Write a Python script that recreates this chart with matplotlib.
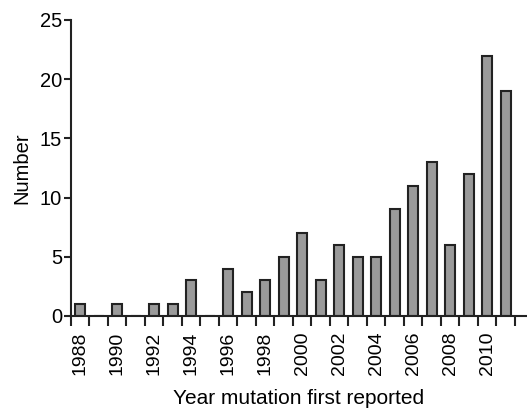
import numpy as np
import matplotlib
matplotlib.use("Agg")
import matplotlib.pyplot as plt

plt.rcParams['font.family'] = ['Liberation Sans', 'DejaVu Sans']

years = np.arange(1988, 2012)
counts = [1, 0, 1, 0, 1, 1, 3, 0, 4, 2, 3, 5, 7, 3, 6, 5, 5, 9, 11, 13, 6, 12, 22, 19]
label_years = np.arange(1988, 2011, 2)

fig = plt.figure(figsize=(5.27, 4.13), dpi=100)
ax = fig.add_axes([0.1347, 0.2349, 0.8653, 0.7167])

ax.bar(years, counts, width=0.55, color='#9a9a9a', edgecolor='#222222', linewidth=1.5, zorder=2)

ax.set_xlim(1987.5, 2012.15)
ax.set_ylim(0, 25)
ax.set_yticks([0, 5, 10, 15, 20, 25])

# ticks at year boundaries, labels under every other bar
ax.set_xticks(np.arange(1987.5, 2012, 1))
ax.set_xticklabels([])
ax.set_xticks(label_years, minor=True)
ax.set_xticklabels([str(y) for y in label_years], minor=True, rotation=90)
ax.tick_params(axis='x', which='major', length=7, width=1.5, color='#222222', direction='out')
ax.tick_params(axis='x', which='minor', length=0, pad=11, labelsize=14)
ax.tick_params(axis='y', length=5, width=1.5, color='#222222', labelsize=14.5, pad=1.5)

for s in ['top', 'right']:
    ax.spines[s].set_visible(False)
for s in ['left', 'bottom']:
    ax.spines[s].set_linewidth(1.5)
    ax.spines[s].set_color('#222222')

ax.set_ylabel('Number', fontsize=14.5, labelpad=6)
ax.set_xlabel('Year mutation first reported', fontsize=15, labelpad=10)

fig.savefig('out.png', dpi=100)
